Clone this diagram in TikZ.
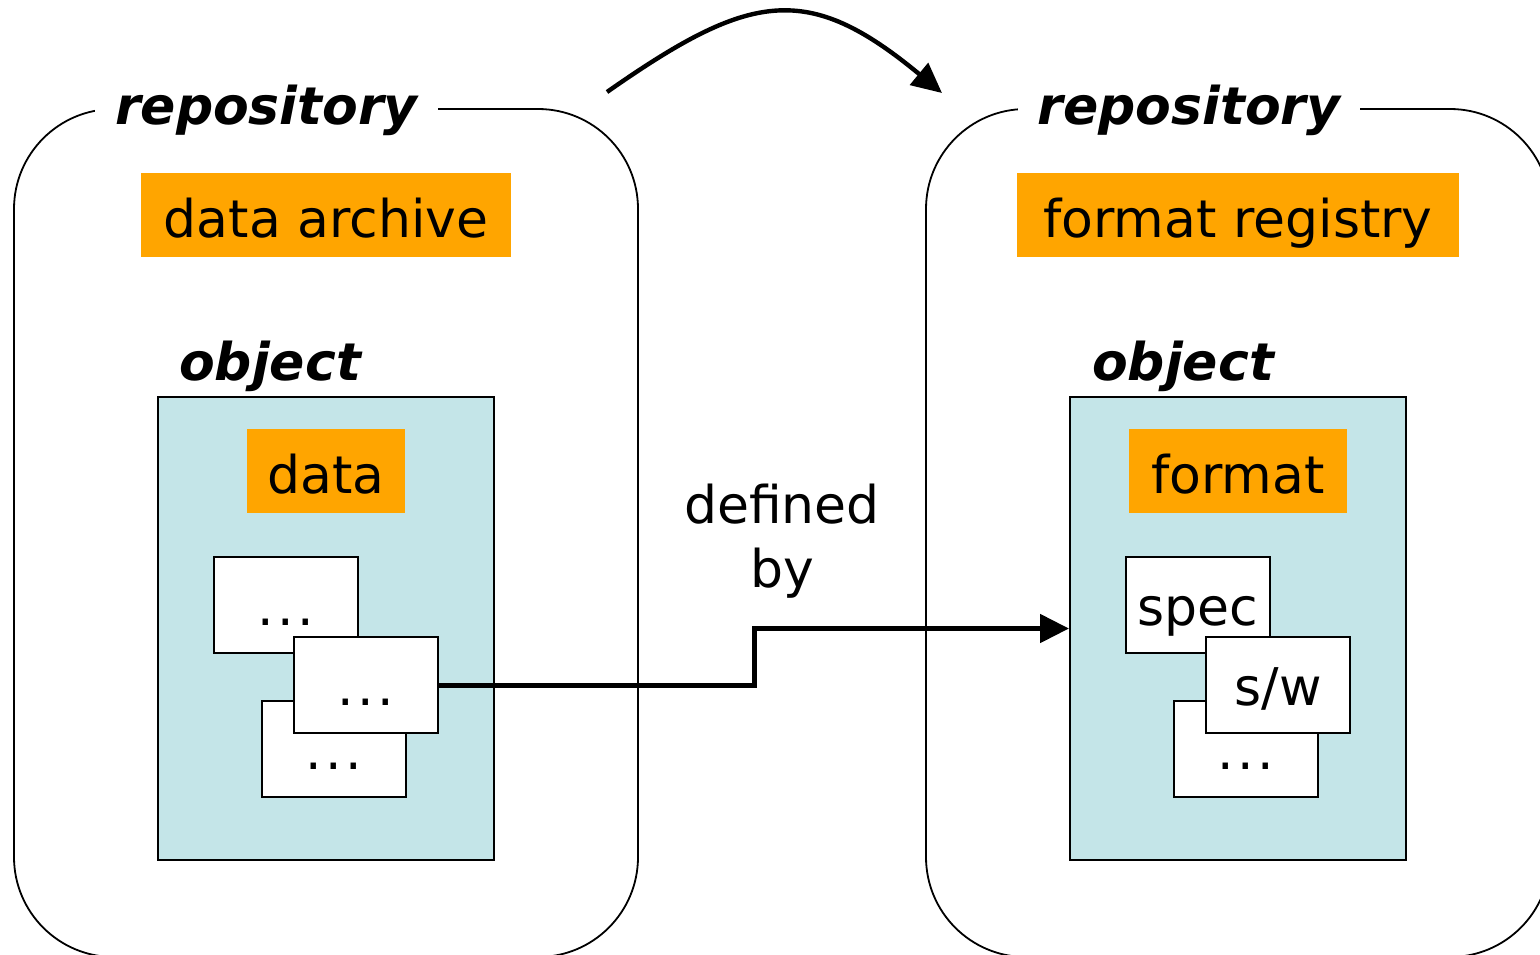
\documentclass[tikz,border=0pt]{standalone}
\usepackage{fontspec}
\setmainfont{DejaVu Sans}
\usetikzlibrary{arrows.meta,calc}
\definecolor{objblue}{RGB}{196,229,232}
\definecolor{orng}{RGB}{255,165,0}
\newcommand\mydots{.\kern1.8pt.\kern1.8pt.}
\begin{document}
\begin{tikzpicture}[x=0.5pt,y=-0.5pt,
  every node/.style={font=\fontsize{26}{32}\selectfont},
  repo/.style={draw, line width=0.9pt, rounded corners=50pt, minimum width=312pt, minimum height=424pt, inner sep=0pt},
  repolabel/.style={fill=white, inner xsep=10pt, inner ysep=3pt, anchor=base, font=\fontsize{26}{32}\selectfont\bfseries\itshape},
  objlabel/.style={anchor=base, inner sep=0pt, font=\fontsize{26}{32}\selectfont\bfseries\itshape},
  objbox/.style={draw, line width=1pt, fill=objblue, minimum width=168pt, minimum height=231.5pt, inner sep=0pt},
  orangebox/.style={fill=orng, minimum height=42pt, inner sep=0pt, text height=22pt, text depth=0pt},
  card/.style={draw, line width=1pt, fill=white, minimum width=72pt, minimum height=48pt, inner sep=0pt, text height=20pt, text depth=0pt},
  conn/.style={line width=2.5pt, -{Triangle[length=14.5pt,width=14pt]}},
  topconn/.style={line width=2.2pt, -{Triangle[length=15pt,width=14pt]}},
]
\useasboundingbox (0,0) rectangle (1540,954);
\clip (0,0) rectangle (1540,954);

% repositories
\node[repo] (repoL) at (326,533) {};
\node[repo] (repoR) at (1238,533) {};
\node[repolabel] (repoLlab) at (266.5,124) {repository};
\node[repolabel] (repoRlab) at (1189,124) {repository};

% top arrow
\coordinate (cs) at (607,92);
\coordinate (ce) at (942,93);
\draw[topconn] (cs) .. controls (750,-8) and (807,-19) .. (ce);

% orange titles
\node[orangebox, minimum width=185pt] (archive) at (326,215) {data archive};
\node[orangebox, minimum width=221pt] (registry) at (1238,215) {format registry};

% objects
\node[objlabel] (objLlab) at (270,380) {object};
\node[objlabel] (objRlab) at (1183,380) {object};
\node[objbox] (objL) at (326,628.5) {};
\node[objbox] (objR) at (1238,628.5) {};

\node[orangebox, minimum width=79pt] (data) at (326,471) {data};
\node[orangebox, minimum width=109pt] (format) at (1238,471) {format};

% cards left
\node[card] (l1) at (286,605) {\mydots};
\node[card] (l3) at (334,749) {\mydots};
\node[card] (l2) at (366,685) {\mydots};

% cards right
\node[card] (r1) at (1198,605) {spec};
\node[card] (r3) at (1246,749) {\mydots};
\node[card] (r2) at (1278,685) {s/w};

% defined by
\node[align=center, anchor=base] (defby) at (782,587) {defined\\by};

% connector
\coordinate (stepc) at (754,650);
\draw[conn] (l2.east) -- (l2.east -| stepc) -- (objR.west -| stepc) -- (objR.west);
\end{tikzpicture}
\end{document}
